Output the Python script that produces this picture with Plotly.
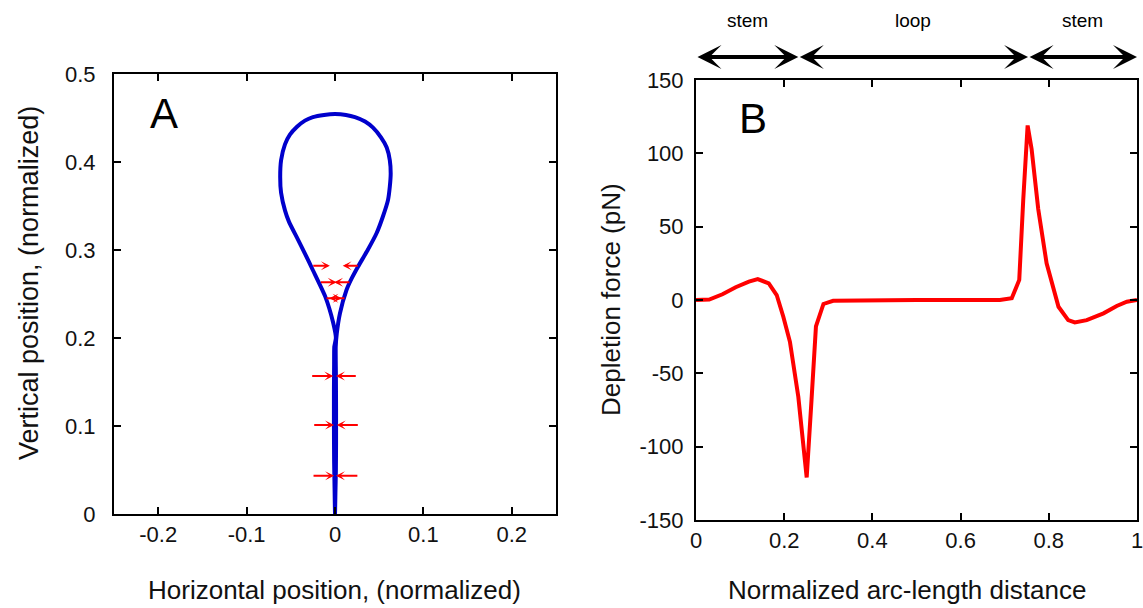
import plotly.graph_objects as go

# ---------------- Data ----------------
# Panel A: hairpin contour (normalized positions)
loop_x = [0.0, -0.0005, -0.001, -0.0012, -0.0012, -0.001, -0.0008,
          0.001, -0.002, -0.011, -0.025, -0.034, -0.043, -0.052, -0.0566, -0.061, -0.062,
          -0.061, -0.0566, -0.051, -0.043, -0.034, -0.025, -0.0124, 0.0, 0.0124, 0.0226,
          0.034, 0.043, 0.052, 0.0585, 0.062, 0.063, 0.062, 0.060, 0.054, 0.047, 0.037,
          0.026, 0.019, 0.013, 0.0056, 0.002, 0.0008, 0.001, 0.0012, 0.0012, 0.001,
          0.0005, 0.0]
loop_y = [0.0, 0.03, 0.06, 0.10, 0.14, 0.17, 0.19,
          0.200, 0.217, 0.247, 0.277, 0.296, 0.314, 0.332, 0.345, 0.365, 0.383,
          0.402, 0.420, 0.431, 0.440, 0.447, 0.451, 0.4535, 0.4545, 0.4535, 0.451,
          0.446, 0.439, 0.428, 0.4165, 0.402, 0.387, 0.372, 0.357, 0.3375, 0.319, 0.300,
          0.281, 0.268, 0.2545, 0.228, 0.205, 0.19, 0.16, 0.12, 0.08, 0.05,
          0.025, 0.0]

# Panel A: red force arrows (row height, left tail/head, right tail/head)
arrow_y = [0.2822, 0.2633, 0.2451, 0.1568, 0.1011, 0.0436]
left_tail = [-0.0263, -0.0177, -0.0113, -0.0275, -0.0252, -0.026]
left_head = [-0.0058, 0.0019, 0.0075, -0.0019, -0.0011, -0.001]
right_tail = [0.0275, 0.018, 0.0124, 0.0252, 0.0275, 0.027]
right_head = [0.0087, -0.001, -0.0064, 0.0011, 0.0019, 0.0011]

# Panel B: depletion force vs arc-length
arc = [0.0, 0.03, 0.06, 0.09, 0.12, 0.14, 0.165, 0.183, 0.198, 0.213, 0.232,
       0.251, 0.262, 0.272, 0.289, 0.311, 0.5, 0.689, 0.716, 0.733, 0.742, 0.752,
       0.761, 0.776, 0.795, 0.822, 0.844, 0.859, 0.886, 0.924, 0.954, 0.977, 1.0]
force = [0.0, 0.3, 3.9, 8.7, 12.5, 14.2, 11.4, 3.4, -11.4, -28.5, -66,
         -121, -68, -18, -2.7, -0.5, 0.0, 0.0, 1.2, 13.7, 68, 119,
         103, 62, 25, -4.6, -13.7, -15.3, -13.7, -9.1, -4.1, -1.2, 0.0]

# Region bar above panel B
region_edges = [0.0, 0.232, 0.753, 1.0]
region_labels = ["stem", "loop", "stem"]

# Tick labels
a_xticks = [-0.2, -0.1, 0, 0.1, 0.2]
a_xticktext = ["-0.2", "-0.1", "0", "0.1", "0.2"]
a_yticks = [0, 0.1, 0.2, 0.3, 0.4, 0.5]
a_yticktext = ["0", "0.1", "0.2", "0.3", "0.4", "0.5"]
b_xticks = [0, 0.2, 0.4, 0.6, 0.8, 1]
b_xticktext = ["0", "0.2", "0.4", "0.6", "0.8", "1"]
b_yticks = [-150, -100, -50, 0, 50, 100, 150]
b_yticktext = ["-150", "-100", "-50", "0", "50", "100", "150"]

FONT = "Liberation Sans, Arial, Helvetica, sans-serif"
W, H = 1143, 608

fig = go.Figure()
fig.add_trace(go.Scatter(x=loop_x, y=loop_y, mode="lines",
                         line=dict(color="#0000CC", width=4, shape="spline", smoothing=0.5),
                         xaxis="x", yaxis="y", showlegend=False, hoverinfo="skip"))
fig.add_trace(go.Scatter(x=arc, y=force, mode="lines",
                         line=dict(color="#FF0000", width=4),
                         xaxis="x2", yaxis="y2", showlegend=False, hoverinfo="skip"))

axis_common = dict(showgrid=False, zeroline=False, showline=True, linecolor="black",
                   linewidth=2, mirror="allticks", ticks="inside", ticklen=7,
                   tickwidth=2, tickcolor="black", automargin=False,
                   ticklabeloverflow="allow",
                   tickfont=dict(family=FONT, size=22, color="#111"))

fig.update_layout(
    width=W, height=H, margin=dict(l=0, r=0, t=0, b=0, pad=0), autosize=False,
    paper_bgcolor="white", plot_bgcolor="white",
    xaxis=dict(domain=[114 / W, 556 / W], range=[-0.25, 0.25], anchor="y",
               tickvals=a_xticks, ticktext=a_xticktext, ticklabelstandoff=0, **axis_common),
    yaxis=dict(domain=[(H - 514) / H, (H - 74) / H], range=[0, 0.5], anchor="x",
               tickvals=a_yticks, ticktext=a_yticktext, ticklabelstandoff=12, **axis_common),
    xaxis2=dict(domain=[696 / W, 1137 / W], range=[0, 1], anchor="y2",
                tickvals=b_xticks, ticktext=b_xticktext, ticklabelstandoff=0, **axis_common),
    yaxis2=dict(domain=[(H - 520) / H, (H - 80) / H], range=[-150, 150], anchor="x2",
                tickvals=b_yticks, ticktext=b_yticktext, ticklabelstandoff=6, **axis_common),
)

ann = []
# red arrows in panel A
for yy, lt, lh, rt, rh in zip(arrow_y, left_tail, left_head, right_tail, right_head):
    for tail, head in ((lt, lh), (rt, rh)):
        ann.append(dict(xref="x", yref="y", axref="x", ayref="y",
                        x=head, y=yy, ax=tail, ay=yy, text="", showarrow=True,
                        arrowhead=3, arrowsize=0.75, arrowwidth=2, arrowcolor="#FF0000",
                        standoff=0, startstandoff=0))
# stem / loop double arrows above panel B
for i in range(len(region_labels)):
    x0, x1 = region_edges[i], region_edges[i + 1]
    ann.append(dict(xref="x2", yref="paper", axref="x2", ayref="pixel",
                    x=x1, y=(H - 57) / H, ax=x0, ay=0, text="", showarrow=True,
                    arrowhead=3, startarrowhead=3, arrowside="end+start",
                    arrowsize=1.0, startarrowsize=1.0, arrowwidth=4, arrowcolor="black",
                    standoff=0, startstandoff=0))
    ann.append(dict(xref="x2", yref="paper", x=(x0 + x1) / 2, y=(H - 20) / H,
                    text=region_labels[i], showarrow=False, xanchor="center", yanchor="middle",
                    font=dict(family=FONT, size=19, color="black")))

# panel letters
ann.append(dict(xref="x", yref="y", x=-0.194, y=0.455, text="A", showarrow=False,
                xanchor="center", yanchor="middle", font=dict(family=FONT, size=42, color="black")))
ann.append(dict(xref="x2", yref="y2", x=0.130, y=124, text="B", showarrow=False,
                xanchor="center", yanchor="middle", font=dict(family=FONT, size=42, color="black")))

# axis titles
ann.append(dict(xref="paper", yref="paper", x=335 / W, y=(H - 590) / H,
                text="Horizontal position, (normalized)", showarrow=False,
                xanchor="center", yanchor="middle", font=dict(family=FONT, size=26, color="#111")))
ann.append(dict(xref="paper", yref="paper", x=907 / W, y=(H - 590) / H,
                text="Normalized arc-length distance", showarrow=False,
                xanchor="center", yanchor="middle", font=dict(family=FONT, size=26, color="#111")))
ann.append(dict(xref="paper", yref="paper", x=29 / W, y=(H - 283) / H,
                text="Vertical position, (normalized)", showarrow=False, textangle=-90,
                xanchor="center", yanchor="middle", font=dict(family=FONT, size=27, color="#111")))
ann.append(dict(xref="paper", yref="paper", x=611 / W, y=(H - 300) / H,
                text="Depletion force (pN)", showarrow=False, textangle=-90,
                xanchor="center", yanchor="middle", font=dict(family=FONT, size=26, color="#111")))

fig.update_layout(annotations=ann)
fig.write_html("out.html")
